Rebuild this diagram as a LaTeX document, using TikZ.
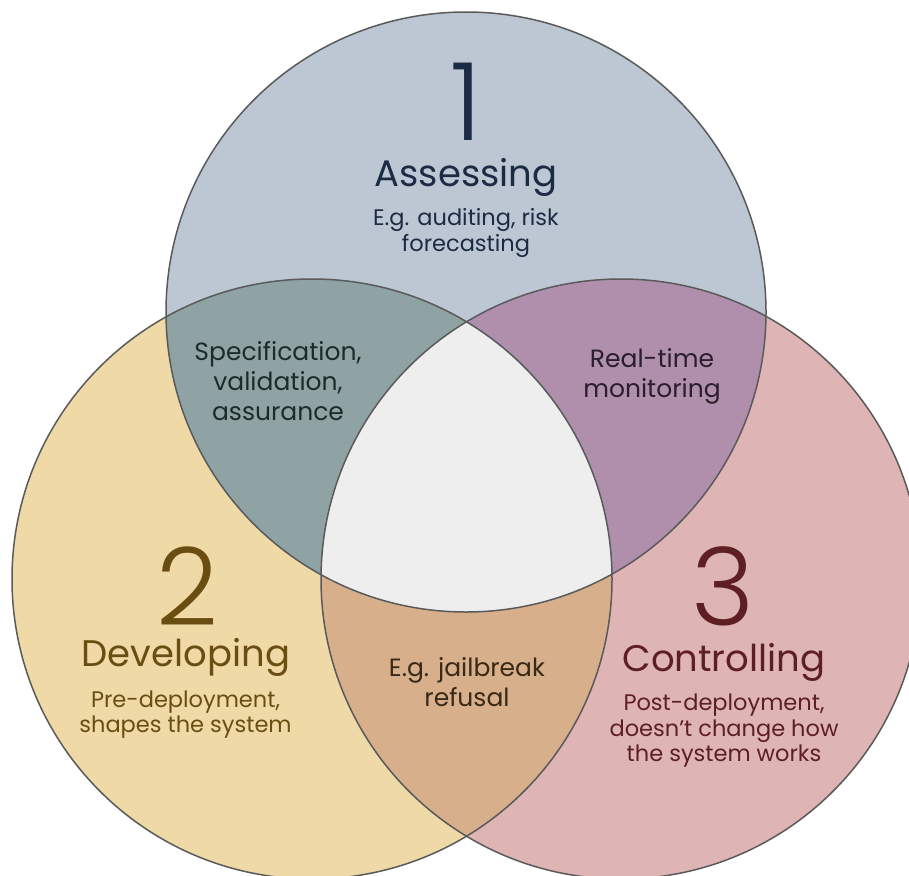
\documentclass[tikz,border=0pt]{standalone}
\usepackage{fontspec}
\setmainfont{Poppins}
\newfontfamily\numfont{Poppins}[UprightFont=* Light]
\definecolor{cTop}{HTML}{BDC7D3}
\definecolor{cLeft}{HTML}{EED9A7}
\definecolor{cRight}{HTML}{DEB4B5}
\definecolor{cTL}{HTML}{8FA3A5}
\definecolor{cTR}{HTML}{B08FAD}
\definecolor{cLR}{HTML}{D7AF8A}
\definecolor{cMid}{HTML}{EEEEEE}
\definecolor{cEdge}{HTML}{5A5A5A}
\definecolor{tTop}{HTML}{1C2B45}
\definecolor{tLeft}{HTML}{6A4D10}
\definecolor{tRight}{HTML}{5E1F22}
\definecolor{tTL}{HTML}{1F2B2B}
\definecolor{tTR}{HTML}{2A1E2A}
\definecolor{tLR}{HTML}{3A2916}
\tikzset{
  ring/.style={draw=cEdge, line width=1.5pt},
  bignum/.style={font=\numfont\fontsize{108}{108}\selectfont, inner sep=0pt},
  title/.style={font=\fontsize{37}{44}\selectfont, inner sep=0pt},
  sub/.style={font=\fontsize{22.5}{25.5}\selectfont, align=center, inner sep=0pt},
  inter/.style={font=\fontsize{25}{30}\selectfont, align=center, inner sep=0pt},
}
\begin{document}
\begin{tikzpicture}[x=1pt,y=-1pt]
\useasboundingbox (0,0) rectangle (909,875);
\clip (0,0) rectangle (909,875);
\coordinate (cA) at (466,312);
\coordinate (cB) at (312,579);
\coordinate (cC) at (621,579);
% single regions
\fill[cTop] (cA) circle[radius=300];
\fill[cLeft] (cB) circle[radius=300];
\fill[cRight] (cC) circle[radius=300];
% pairwise
\begin{scope}\clip (cA) circle[radius=300]; \fill[cTL] (cB) circle[radius=300];\end{scope}
\begin{scope}\clip (cA) circle[radius=300]; \fill[cTR] (cC) circle[radius=300];\end{scope}
\begin{scope}\clip (cB) circle[radius=300]; \fill[cLR] (cC) circle[radius=300];\end{scope}
\begin{scope}\clip (cA) circle[radius=300]; \clip (cB) circle[radius=300]; \fill[cMid] (cC) circle[radius=300];\end{scope}
% outlines
\draw[ring] (cA) circle[radius=300];
\draw[ring] (cB) circle[radius=300];
\draw[ring] (cC) circle[radius=300];
% texts
\node[bignum, text=tTop] (n1) at (466,102) {1};
\node[title, text=tTop] (t1) at (466,177.5) {Assessing};
\node[sub, text=tTop] (s1) at (466,233) {E.g. auditing, risk\\forecasting};
\node[bignum, text=tLeft] (n2) at (187,586) {2};
\node[title, text=tLeft] (t2) at (186,657.5) {Developing};
\node[sub, text=tLeft] (s2) at (185.5,714.5) {Pre-deployment,\\shapes the system};
\node[bignum, text=tRight] (n3) at (723,586) {3};
\node[title, text=tRight] (t3) at (724,662.5) {Controlling};
\node[sub, text=tRight] (s3) at (724,731) {Post-deployment,\\doesn’t change how\\the system works};
\node[inter, text=tTL] (iTL) at (278,381.5) {Specification,\\validation,\\assurance};
\node[inter, text=tTR] (iTR) at (652,376.5) {Real-time\\monitoring};
\node[inter, text=tLR] (iLR) at (467,682) {E.g. jailbreak\\refusal};
\end{tikzpicture}
\end{document}
